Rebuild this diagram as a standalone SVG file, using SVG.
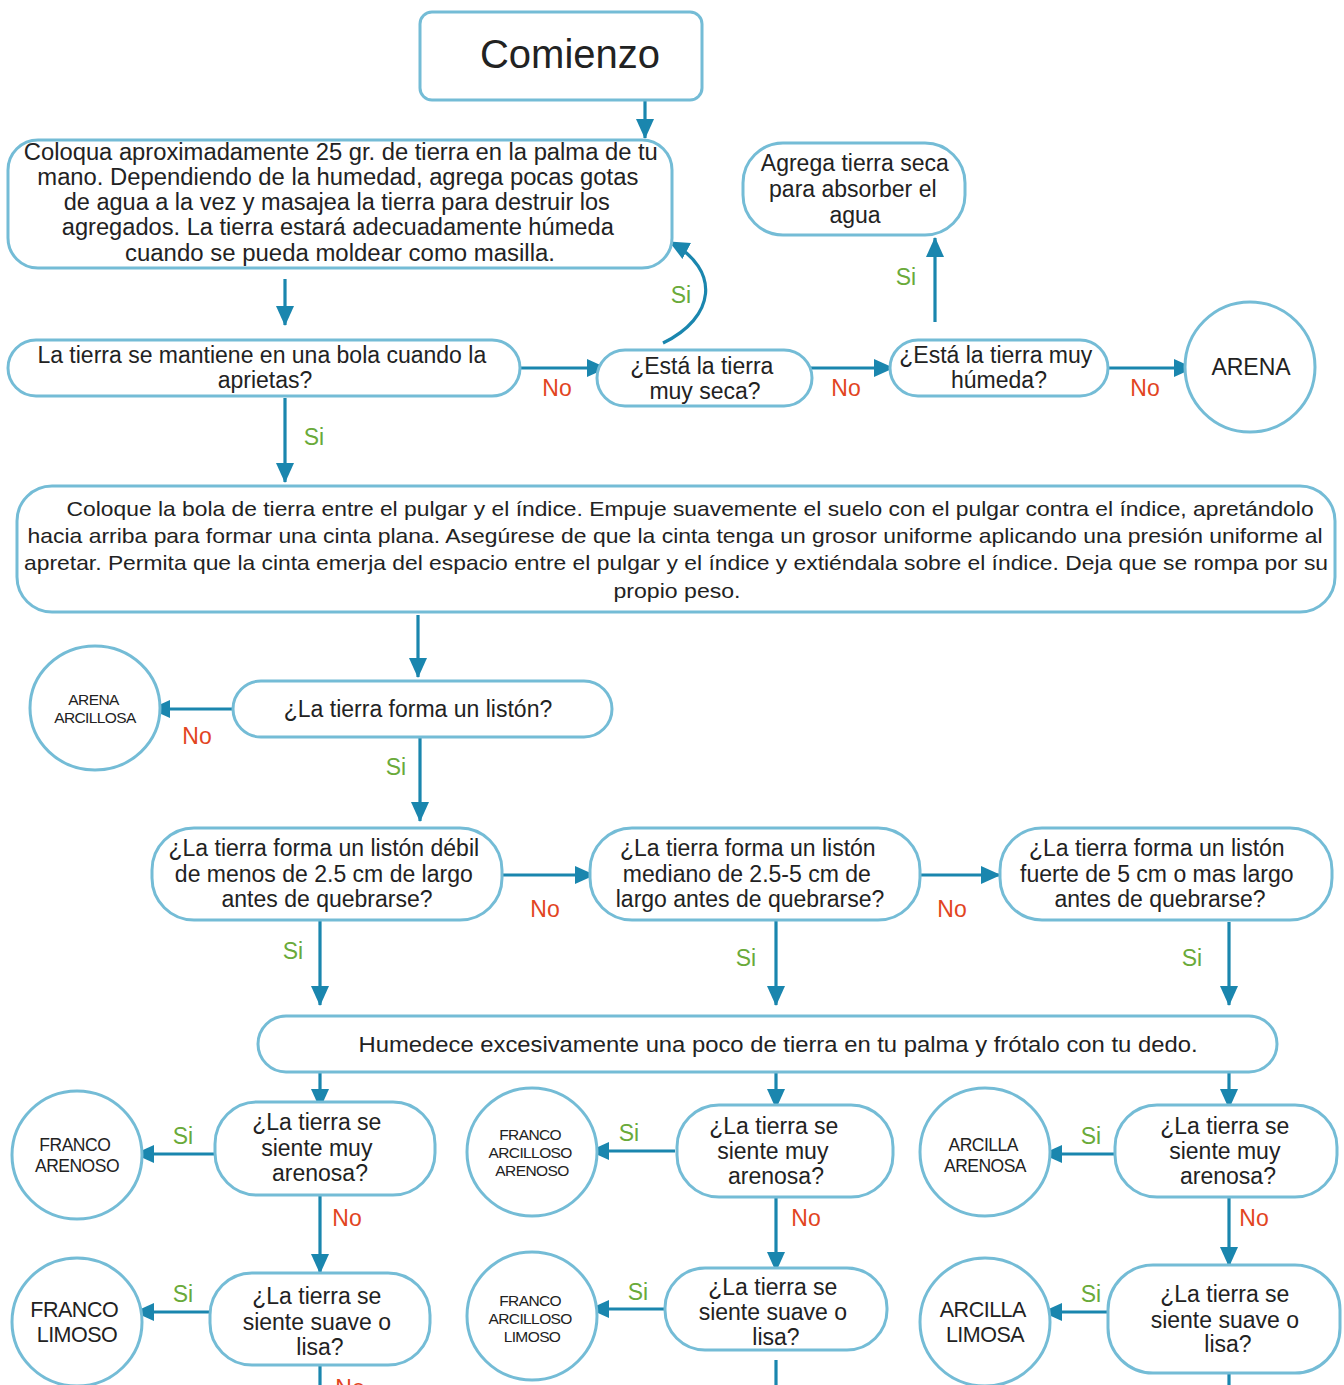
<svg xmlns="http://www.w3.org/2000/svg" width="1344" height="1385" viewBox="0 0 1344 1385">
<style>
.box{fill:#fff;stroke:#74bcd6;stroke-width:3}
.t{font-family:"Liberation Sans",Arial,sans-serif;fill:#222;text-anchor:middle}
.q{font-size:23px}
.c{stroke:#1a86ae;stroke-width:3.2;fill:none}
.si{font-family:"Liberation Sans",Arial,sans-serif;fill:#6aaa3a;font-size:23px;text-anchor:middle}
.no{font-family:"Liberation Sans",Arial,sans-serif;fill:#e2451f;font-size:23px;text-anchor:middle}
</style>
<defs>
<marker id="ah" markerUnits="userSpaceOnUse" markerWidth="22" markerHeight="22" refX="19" refY="10" orient="auto">
<path d="M0,1 L20,10 L0,19 z" fill="#1a86ae"/>
</marker>
</defs>
<rect width="1344" height="1385" fill="#fff"/>

<g id="connectors">
<line class="c" x1="645" y1="94" x2="645" y2="138" marker-end="url(#ah)"/>
<line class="c" x1="285" y1="279" x2="285" y2="325" marker-end="url(#ah)"/>
<line class="c" x1="515" y1="368" x2="606" y2="368" marker-end="url(#ah)"/>
<line class="c" x1="805" y1="368" x2="893" y2="368" marker-end="url(#ah)"/>
<line class="c" x1="1104" y1="368" x2="1193" y2="368" marker-end="url(#ah)"/>
<path class="c" d="M663,343 C715,318 722,270 670,242" marker-end="url(#ah)"/>
<line class="c" x1="935" y1="322" x2="935" y2="238" marker-end="url(#ah)"/>
<line class="c" x1="285" y1="398" x2="285" y2="482" marker-end="url(#ah)"/>
<line class="c" x1="418" y1="615" x2="418" y2="677" marker-end="url(#ah)"/>
<line class="c" x1="242" y1="709" x2="151" y2="709" marker-end="url(#ah)"/>
<line class="c" x1="420" y1="737" x2="420" y2="821" marker-end="url(#ah)"/>
<line class="c" x1="500" y1="875" x2="594" y2="875" marker-end="url(#ah)"/>
<line class="c" x1="908" y1="875" x2="1000" y2="875" marker-end="url(#ah)"/>
<line class="c" x1="320" y1="920" x2="320" y2="1005" marker-end="url(#ah)"/>
<line class="c" x1="776" y1="920" x2="776" y2="1005" marker-end="url(#ah)"/>
<line class="c" x1="1229" y1="922" x2="1229" y2="1005" marker-end="url(#ah)"/>
<line class="c" x1="320" y1="1064" x2="320" y2="1108" marker-end="url(#ah)"/>
<line class="c" x1="776" y1="1066" x2="776" y2="1108" marker-end="url(#ah)"/>
<line class="c" x1="1229" y1="1066" x2="1229" y2="1108" marker-end="url(#ah)"/>
<line class="c" x1="218" y1="1154" x2="135" y2="1154" marker-end="url(#ah)"/>
<line class="c" x1="675" y1="1151" x2="590" y2="1151" marker-end="url(#ah)"/>
<line class="c" x1="1126" y1="1154" x2="1043" y2="1154" marker-end="url(#ah)"/>
<line class="c" x1="320" y1="1192" x2="320" y2="1273" marker-end="url(#ah)"/>
<line class="c" x1="776" y1="1195" x2="776" y2="1271" marker-end="url(#ah)"/>
<line class="c" x1="1229" y1="1195" x2="1229" y2="1266" marker-end="url(#ah)"/>
<line class="c" x1="218" y1="1312" x2="135" y2="1312" marker-end="url(#ah)"/>
<line class="c" x1="675" y1="1309" x2="590" y2="1309" marker-end="url(#ah)"/>
<line class="c" x1="1118" y1="1312" x2="1043" y2="1312" marker-end="url(#ah)"/>
<line class="c" x1="320" y1="1365" x2="320" y2="1390"/>
<line class="c" x1="776" y1="1360" x2="776" y2="1390"/>
<line class="c" x1="1229" y1="1372" x2="1229" y2="1390"/>
<text class="no" x="557" y="396">No</text>
<text class="no" x="846" y="396">No</text>
<text class="no" x="1145" y="396">No</text>
<text class="si" x="681" y="303">Si</text>
<text class="si" x="906" y="285">Si</text>
<text class="si" x="314" y="445">Si</text>
<text class="no" x="197" y="744">No</text>
<text class="si" x="396" y="775">Si</text>
<text class="no" x="545" y="917">No</text>
<text class="no" x="952" y="917">No</text>
<text class="si" x="293" y="959">Si</text>
<text class="si" x="746" y="966">Si</text>
<text class="si" x="1192" y="966">Si</text>
<text class="si" x="183" y="1144">Si</text>
<text class="si" x="629" y="1141">Si</text>
<text class="si" x="1091" y="1144">Si</text>
<text class="no" x="347" y="1226">No</text>
<text class="no" x="806" y="1226">No</text>
<text class="no" x="1254" y="1226">No</text>
<text class="si" x="183" y="1302">Si</text>
<text class="si" x="638" y="1300">Si</text>
<text class="si" x="1091" y="1302">Si</text>
<text class="no" x="350" y="1396">No</text>
</g>

<g id="comienzo">
<rect class="box" x="420" y="12" width="282" height="88" rx="12"/>
<text class="t" x="570" y="68" font-size="40">Comienzo</text>
</g>

<g id="coloqua">
<rect class="box" x="8" y="140" width="664" height="128" rx="30"/>
<text class="t q">
<tspan x="344" y="160" textLength="634" lengthAdjust="spacingAndGlyphs">Coloqua aproximadamente 25 gr. de tierra en la palma de tu</tspan>
<tspan x="341" y="185" textLength="601" lengthAdjust="spacingAndGlyphs">mano. Dependiendo de la humedad, agrega pocas gotas</tspan>
<tspan x="340" y="210" textLength="546" lengthAdjust="spacingAndGlyphs">de agua a la vez y masajea la tierra para destruir los</tspan>
<tspan x="341" y="235" textLength="552" lengthAdjust="spacingAndGlyphs">agregados. La tierra estará adecuadamente húmeda</tspan>
<tspan x="340" y="261" textLength="430" lengthAdjust="spacingAndGlyphs">cuando se pueda moldear como masilla.</tspan>
</text>
</g>

<g id="agrega">
<rect class="box" x="743" y="143" width="222" height="92" rx="40"/>
<text class="t q">
<tspan x="858" y="171">Agrega tierra seca</tspan>
<tspan x="856" y="197">para absorber el</tspan>
<tspan x="855" y="223">agua</tspan>
</text>
</g>

<g id="bola">
<rect class="box" x="8" y="340" width="512" height="56" rx="28"/>
<text class="t q">
<tspan x="265" y="363">La tierra se mantiene en una bola cuando la</tspan>
<tspan x="265" y="388">aprietas?</tspan>
</text>
</g>

<g id="seca">
<rect class="box" x="597" y="350" width="215" height="56" rx="28"/>
<text class="t q">
<tspan x="705" y="374">¿Está la tierra</tspan>
<tspan x="705" y="399">muy seca?</tspan>
</text>
</g>

<g id="humeda">
<rect class="box" x="890" y="340" width="218" height="56" rx="28"/>
<text class="t q">
<tspan x="999" y="363">¿Está la tierra muy</tspan>
<tspan x="999" y="388">húmeda?</tspan>
</text>
</g>

<g id="arena">
<ellipse class="box" cx="1250" cy="367" rx="65" ry="65"/>
<text class="t" x="1251" y="375" font-size="23">ARENA</text>
</g>

<g id="coloque">
<rect class="box" x="17" y="486" width="1318" height="126" rx="35"/>
<text class="t" font-size="21">
<tspan x="693" y="516" textLength="1247" lengthAdjust="spacingAndGlyphs">Coloque la bola de tierra entre el pulgar y el índice. Empuje suavemente el suelo con el pulgar contra el índice, apretándolo</tspan>
<tspan x="678" y="543" textLength="1295" lengthAdjust="spacingAndGlyphs">hacia arriba para formar una cinta plana. Asegúrese de que la cinta tenga un grosor uniforme aplicando una presión uniforme al</tspan>
<tspan x="679" y="570" textLength="1304" lengthAdjust="spacingAndGlyphs">apretar. Permita que la cinta emerja del espacio entre el pulgar y el índice y extiéndala sobre el índice. Deja que se rompa por su</tspan>
<tspan x="677" y="598" textLength="127" lengthAdjust="spacingAndGlyphs">propio peso.</tspan>
</text>
</g>

<g id="liston">
<rect class="box" x="233" y="681" width="379" height="56" rx="28"/>
<text class="t q" x="418" y="717">¿La tierra forma un listón?</text>
</g>

<g id="arena-arcillosa">
<ellipse class="box" cx="95" cy="708" rx="65" ry="62"/>
<text class="t" font-size="15.5" letter-spacing="-0.6">
<tspan x="95" y="705">ARENA</tspan>
<tspan x="95" y="723">ARCILLOSA</tspan>
</text>
</g>

<g id="debil">
<rect class="box" x="152" y="828" width="350" height="92" rx="42"/>
<text class="t q">
<tspan x="327" y="856">¿La tierra forma un listón débil</tspan>
<tspan x="327" y="882">de menos de 2.5 cm de largo</tspan>
<tspan x="327" y="907">antes de quebrarse?</tspan>
</text>
</g>

<g id="mediano">
<rect class="box" x="590" y="828" width="330" height="92" rx="42"/>
<text class="t q">
<tspan x="751" y="856">¿La tierra forma un listón</tspan>
<tspan x="750" y="882">mediano de 2.5-5 cm de</tspan>
<tspan x="750" y="907">largo antes de quebrarse?</tspan>
</text>
</g>

<g id="fuerte">
<rect class="box" x="1000" y="828" width="332" height="92" rx="42"/>
<text class="t q">
<tspan x="1160" y="856">¿La tierra forma un listón</tspan>
<tspan x="1160" y="882">fuerte de 5 cm o mas largo</tspan>
<tspan x="1160" y="907">antes de quebrarse?</tspan>
</text>
</g>

<g id="humedece">
<rect class="box" x="258" y="1016" width="1019" height="56" rx="28"/>
<text class="t" x="778" y="1052" font-size="22" textLength="839" lengthAdjust="spacingAndGlyphs">Humedece excesivamente una poco de tierra en tu palma y frótalo con tu dedo.</text>
</g>

<g id="arenosa-1">
<rect class="box" x="215" y="1102" width="220" height="93" rx="42"/>
<text class="t q">
<tspan x="320" y="1130">¿La tierra se</tspan>
<tspan x="320" y="1156">siente muy</tspan>
<tspan x="320" y="1181">arenosa?</tspan>
</text>
</g>

<g id="arenosa-2">
<rect class="box" x="677" y="1105" width="216" height="92" rx="42"/>
<text class="t q">
<tspan x="777" y="1134">¿La tierra se</tspan>
<tspan x="776" y="1159">siente muy</tspan>
<tspan x="776" y="1184">arenosa?</tspan>
</text>
</g>

<g id="arenosa-3">
<rect class="box" x="1115" y="1105" width="222" height="92" rx="42"/>
<text class="t q">
<tspan x="1228" y="1134">¿La tierra se</tspan>
<tspan x="1228" y="1159">siente muy</tspan>
<tspan x="1228" y="1184">arenosa?</tspan>
</text>
</g>

<g id="franco-arenoso">
<ellipse class="box" cx="77" cy="1155" rx="65" ry="64"/>
<text class="t" font-size="17.5" letter-spacing="-0.5">
<tspan x="77" y="1151">FRANCO</tspan>
<tspan x="77" y="1172">ARENOSO</tspan>
</text>
</g>

<g id="franco-arcilloso-arenoso">
<ellipse class="box" cx="532" cy="1152" rx="65" ry="64"/>
<text class="t" font-size="15.5" letter-spacing="-0.6">
<tspan x="532" y="1140">FRANCO</tspan>
<tspan x="532" y="1158">ARCILLOSO</tspan>
<tspan x="532" y="1176">ARENOSO</tspan>
</text>
</g>

<g id="arcilla-arenosa">
<ellipse class="box" cx="985" cy="1152" rx="65" ry="64"/>
<text class="t" font-size="17.5" letter-spacing="-0.5">
<tspan x="985" y="1151">ARCILLA</tspan>
<tspan x="985" y="1172">ARENOSA</tspan>
</text>
</g>

<g id="suave-1">
<rect class="box" x="210" y="1273" width="220" height="92" rx="42"/>
<text class="t q">
<tspan x="320" y="1304">¿La tierra se</tspan>
<tspan x="320" y="1330">siente suave o</tspan>
<tspan x="320" y="1355">lisa?</tspan>
</text>
</g>

<g id="suave-2">
<rect class="box" x="665" y="1268" width="222" height="82" rx="40"/>
<text class="t q">
<tspan x="776" y="1295">¿La tierra se</tspan>
<tspan x="776" y="1320">siente suave o</tspan>
<tspan x="776" y="1345">lisa?</tspan>
</text>
</g>

<g id="suave-3">
<rect class="box" x="1108" y="1265" width="232" height="108" rx="45"/>
<text class="t q">
<tspan x="1228" y="1302">¿La tierra se</tspan>
<tspan x="1228" y="1328">siente suave o</tspan>
<tspan x="1228" y="1352">lisa?</tspan>
</text>
</g>

<g id="franco-limoso">
<ellipse class="box" cx="77" cy="1322" rx="65" ry="64"/>
<text class="t" font-size="21.5" letter-spacing="-0.5">
<tspan x="77" y="1317">FRANCO</tspan>
<tspan x="77" y="1342">LIMOSO</tspan>
</text>
</g>

<g id="franco-arcilloso-limoso">
<ellipse class="box" cx="532" cy="1316" rx="65" ry="64"/>
<text class="t" font-size="15.5" letter-spacing="-0.6">
<tspan x="532" y="1306">FRANCO</tspan>
<tspan x="532" y="1324">ARCILLOSO</tspan>
<tspan x="532" y="1342">LIMOSO</tspan>
</text>
</g>

<g id="arcilla-limosa">
<ellipse class="box" cx="985" cy="1322" rx="65" ry="64"/>
<text class="t" font-size="21.5" letter-spacing="-0.5">
<tspan x="985" y="1317">ARCILLA</tspan>
<tspan x="985" y="1342">LIMOSA</tspan>
</text>
</g>
</svg>
